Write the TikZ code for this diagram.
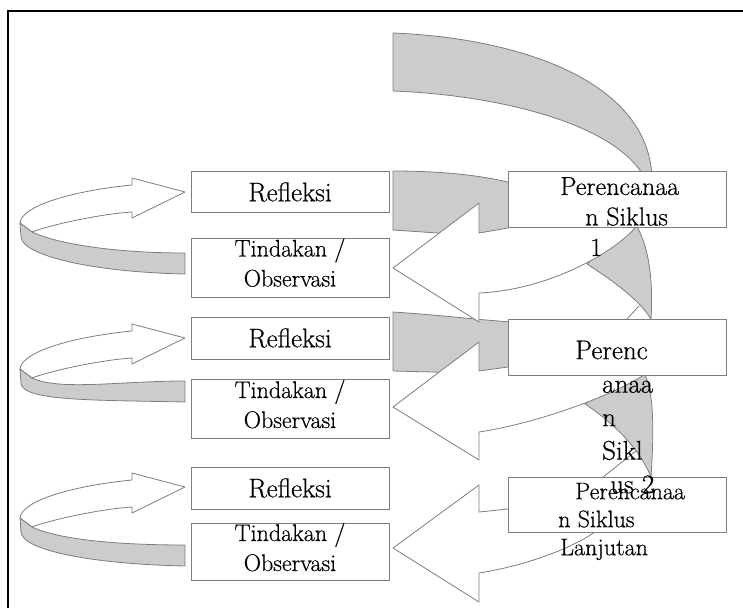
\documentclass[tikz,border=0pt]{standalone}
\usepackage{fontspec}
\setmainfont{Latin Modern Roman}[FakeBold=0.5]
\usepackage{tikz}
\usetikzlibrary{positioning}

\definecolor{bandgray}{RGB}{204,204,204}
\definecolor{linegray}{RGB}{125,125,125}

% loop from Tindakan back up to Refleksi: #1 = tip, #2 = top of grey end
\newcommand\loopback[2]{
 \draw[front arrow] (20,#1+31) .. controls (22,#1+12) and (80,#1-2) .. (132,#1-7)
 	-- (132,#1-14) -- (185,#1) -- (132,#1+26) -- (132,#1+20)
 	.. controls (100,#1+22) and (50,#1+33) .. (32,#1+40) -- cycle;
 \draw[back band] (20,#1+31) -- (21,#1+45)
 	.. controls (22,#1+63) and (90,#2+19) .. (185,#2+21)
 	-- (185,#2) .. controls (120,#2) and (60,#1+53) .. (32,#1+40) -- cycle;
}

\begin{document}
\begin{tikzpicture}[x=1pt,y=-1pt]

 \tikzset{cycle box/.style={
 		draw=linegray, line width=1pt, fill=white,
 		minimum width=198pt, minimum height=#1,
 		inner sep=0pt, align=center,
 		font=\fontsize{27}{30}\selectfont
 	},
 	cycle box/.default=41pt,
 	act box/.style={cycle box=#1, text depth=10pt,
 		font=\fontsize{24}{30}\selectfont},
 	plan box/.style={draw=linegray, line width=1pt, fill=white,
 		minimum width=218pt, minimum height=#1, inner sep=0pt},
 	plan box/.default=56pt,
 	plan text/.style={anchor=north west, inner sep=0pt, align=left},
 	back band/.style={draw=linegray, fill=bandgray, line width=0.8pt, line join=round},
 	front arrow/.style={draw=linegray, fill=white, line width=0.8pt, line join=round}
 }
 \useasboundingbox (0,0) rectangle (743,608);
 \draw[line width=1.6pt] (8,608) -- (8,11) -- (743,11);

 % grey backs of the big arrows
 \draw[back band] (393,33) .. controls (520,38) and (655,82) .. (652,185)
 	-- (648,185) .. controls (625,125) and (500,95) .. (393,91) -- cycle;
 \draw[back band] (393,171) .. controls (440,171) and (480,175) .. (512,183)
 	-- (512,238) -- (393,230) -- cycle;
 \draw[back band] (393,312) .. controls (440,315) and (480,320) .. (512,322)
 	-- (512,374) -- (393,371) -- cycle;
 \draw[back band] (587,264) .. controls (610,279) and (638,298) .. (651,319)
 	.. controls (653,280) and (650,245) .. (632,218) -- cycle;
 \draw[back band] (585,404) .. controls (608,419) and (638,445) .. (651,477)
 	.. controls (654,430) and (655,385) .. (640,366) -- cycle;

 % white fronts pointing back to Tindakan / Observasi
 \draw[front arrow] (393,268) -- (479,203) -- (479,233) -- (508,228) -- (530,200)
 	-- (645,200) -- (640,222) .. controls (620,250) and (550,290) .. (479,293)
 	-- (479,322) -- cycle;
 \draw[front arrow] (393,407) -- (479,342) -- (479,371) -- (508,367) -- (530,350)
 	-- (650,350) -- (648,372) .. controls (625,390) and (545,422) .. (479,432)
 	-- (479,460) -- cycle;
 \draw[front arrow] (393,548) -- (479,485) -- (479,512) -- (508,509) -- (530,500)
 	-- (600,500) -- (600,528) .. controls (580,545) and (530,565) .. (479,573)
 	-- (479,602) -- cycle;
 \draw[linegray, line width=0.8pt] (627,319) -- (639,306);
 \draw[linegray, line width=0.8pt] (603,477) -- (636,451);

 \loopback{192}{253}
 \loopback{338}{381}
 \loopback{487}{545}

 \node[cycle box] (refl1) at (290,192) {Refleksi};
 \node[act box=59pt] (tind1) at (290,267.5) {Tindakan /\\Observasi};
 \node[cycle box=42pt] (refl2) at (290,338) {Refleksi};
 \node[act box=59pt] (tind2) at (290,409) {Tindakan /\\Observasi};
 \node[cycle box=42pt] (refl3) at (290,488) {Refleksi};
 \node[act box=57pt] (tind3) at (290,552) {Tindakan /\\Observasi};

 \node[plan box] (plan1) at (617,199) {};
 \node[plan box] (plan2) at (617,347) {};
 \node[plan box=55pt] (plan3) at (617,504.5) {};

 %|text runs out of the boxes|
 \node[plan text, font=\fontsize{26}{30.5}\selectfont] (plan1txt) at (560,177)
 	{Perencanaa\\\hspace*{25pt}n Siklus\\\hspace*{30pt}1};
 \node[plan text, font=\fontsize{27}{33.5}\selectfont] (plan2txt) at (575,340.5)
 	{Perenc\\\hspace*{27pt}anaa\\\hspace*{27pt}n\\\hspace*{27pt}Sikl\\\hspace*{35pt}us 2};
 \node[plan text, font=\fontsize{24}{28}\selectfont] (plan3txt) at (558,482.6)
 	{\hspace*{17pt}Perencanaa\\n Siklus\\\hspace*{2pt}Lanjutan};
\end{tikzpicture}
\end{document}
